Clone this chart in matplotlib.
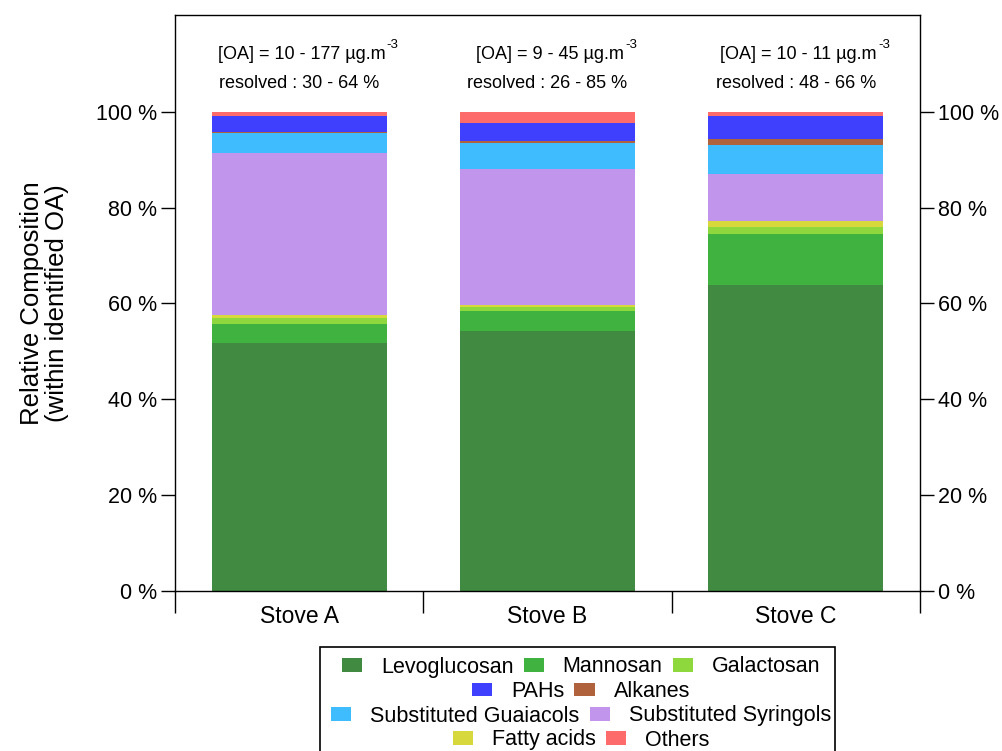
import matplotlib
matplotlib.use("Agg")
import matplotlib.pyplot as plt
from matplotlib.patches import Rectangle, Patch
import numpy as np

plt.rcParams['font.family'] = ['Liberation Sans', 'DejaVu Sans']

stoves = ["Stove A", "Stove B", "Stove C"]
components = ["Levoglucosan", "Mannosan", "Galactosan", "Fatty acids",
              "Substituted Syringols", "Substituted Guaiacols", "Alkanes", "PAHs", "Others"]
colors = {"Levoglucosan": "#408a41", "Mannosan": "#40b240", "Galactosan": "#8ed83e",
          "Fatty acids": "#d7d83c", "Substituted Syringols": "#c095eb",
          "Substituted Guaiacols": "#3ebcfe", "Alkanes": "#b0623c", "PAHs": "#3f3ffe",
          "Others": "#fe6b6b"}
levoglucosan = [51.8, 54.3, 63.9]
mannosan = [3.9, 4.2, 10.7]
galactosan = [1.3, 0.8, 1.3]
fatty_acids = [0.5, 0.4, 1.3]
syringols = [33.8, 28.3, 9.9]
guaiacols = [4.2, 5.4, 6.0]
alkanes = [0.3, 0.5, 1.3]
pahs = [3.4, 3.8, 4.8]
others = [0.8, 2.3, 0.8]
series = [levoglucosan, mannosan, galactosan, fatty_acids, syringols,
          guaiacols, alkanes, pahs, others]
annot_conc = ["[OA] = 10 - 177 µg.m", "[OA] = 9 - 45 µg.m", "[OA] = 10 - 11 µg.m"]
annot_res = ["resolved : 30 - 64 %", "resolved : 26 - 85 %", "resolved : 48 - 66 %"]
yticks = [0, 20, 40, 60, 80, 100]
legend_rows = [["Levoglucosan", "Mannosan", "Galactosan"], ["PAHs", "Alkanes"],
               ["Substituted Guaiacols", "Substituted Syringols"], ["Fatty acids", "Others"]]

W, H = 1003, 751
fig = plt.figure(figsize=(W/100, H/100), dpi=100)
ax = fig.add_axes([175/W, 1-591/H, (920-175)/W, (591-15)/H])

x = np.arange(len(stoves)) + 0.5
bottom = np.zeros(len(stoves))
for name, vals in zip(components, series):
    ax.bar(x, vals, width=0.705, bottom=bottom, color=colors[name], label=name, linewidth=0)
    bottom += np.array(vals)

ax.set_xlim(0, 3)
ax.set_ylim(0, 120.2)
ax.set_yticks(yticks)
ax.set_yticklabels([f"{t} %" for t in yticks], fontsize=15.5)
ax.tick_params(axis='y', which='both', left=True, right=True, labelleft=True, labelright=True,
               direction='out', length=10, width=1, pad=3)
ax.set_xticks([0, 1, 2, 3])
ax.set_xticklabels([])
ax.set_xticks(x, minor=True)
ax.set_xticklabels(stoves, minor=True, fontsize=16.5)
ax.tick_params(axis='x', which='major', direction='out', length=16, width=1)
ax.tick_params(axis='x', which='minor', length=0, pad=10)
for s in ax.spines.values():
    s.set_linewidth(1)

ax.set_ylabel("Relative Composition\n(within identified OA)", fontsize=18.5, labelpad=2,
              linespacing=1.05)
ax.yaxis.set_label_coords(-(175-69)/(920-175), 0.5)

for xi, c, r in zip(x, annot_conc, annot_res):
    t = ax.text(xi + 0.01, 112.0, c, ha='center', va='center', fontsize=13)
    ax.annotate("-3", xy=(1, 1), xycoords=t, xytext=(1, -4), textcoords='offset points',
                ha='left', va='bottom', fontsize=9.5)
    ax.text(xi, 106.0, r, ha='center', va='center', fontsize=13)

# legend frame
fig.patches.append(Rectangle((320/W, -0.02), (835-320)/W, (H-647)/H + 0.02,
                             transform=fig.transFigure, fill=False, edgecolor='black',
                             linewidth=1.2, clip_on=False))
row_y = [667, 691.5, 716, 740]
for names, yy in zip(legend_rows, row_y):
    handles = [Patch(facecolor=colors[n], edgecolor='none') for n in names]
    fig.legend(handles, names, loc='center', bbox_to_anchor=(581/W, 1-yy/H), ncol=len(names),
               frameon=False, fontsize=15.5, handlelength=0.93, handleheight=0.6,
               handletextpad=0.88, columnspacing=0.47, borderpad=0, borderaxespad=0)

fig.savefig("out.png", dpi=100)
